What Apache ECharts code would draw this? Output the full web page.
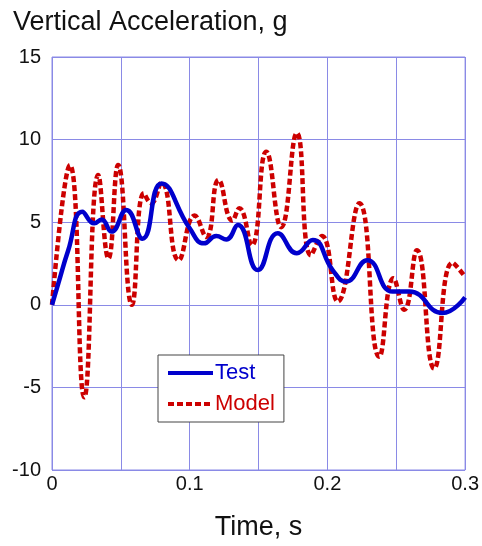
<!DOCTYPE html>
<html>
<head>
<meta charset="utf-8">
<script src="https://cdn.jsdelivr.net/npm/echarts@6/dist/echarts.min.js"></script>
<style>
  html, body { margin: 0; padding: 0; background: #fff; }
  #chart { width: 482px; height: 546px; }
</style>
</head>
<body>
<div id="chart"></div>
<script>
// test (measured) curve, time in s / acceleration in g
var testT = [0, 0.0046, 0.0118, 0.022, 0.0307, 0.036, 0.0432, 0.054, 0.0657, 0.0795, 0.1, 0.1104, 0.1193, 0.1266, 0.135, 0.1495, 0.164, 0.1778, 0.1894, 0.2038, 0.2135, 0.229, 0.2473, 0.2594, 0.2836, 0.3];
var testV = [0, 1.3, 3.3, 5.64, 4.93, 5.17, 4.43, 5.74, 4.0, 7.35, 4.63, 3.72, 4.16, 3.96, 4.83, 2.1, 4.33, 3.12, 3.92, 2.1, 1.4, 2.7, 0.8, 0.8, -0.5, 0.45];
// model curve
var modelT = [0, 0.013, 0.0234, 0.0336, 0.041, 0.048, 0.058, 0.0667, 0.072, 0.0795, 0.092, 0.1036, 0.112, 0.121, 0.131, 0.136, 0.145, 0.1556, 0.1664, 0.1778, 0.188, 0.196, 0.2075, 0.2232, 0.2377, 0.248, 0.2558, 0.265, 0.2775, 0.2908, 0.299];
var modelV = [0, 8.45, -5.6, 7.86, 2.8, 8.46, 0, 6.75, 6.15, 7.4, 2.7, 5.4, 4.1, 7.55, 5.1, 5.85, 3.6, 9.27, 4.7, 10.4, 3.0, 4.16, 0.2, 6.14, -3.14, 1.6, -0.3, 3.3, -3.85, 2.55, 1.8];
// x tick labels (every other grid line is labelled)
var xTickLabels = ['0', '', '0.1', '', '0.2', '', '0.3'];

function pairs(t, v) {
    return t.map(function (x, i) { return [x, v[i]]; });
}

var gridColor = '#8a8ae6';
var myChart = echarts.init(document.getElementById('chart'));
myChart.setOption({
    animation: false,
    textStyle: { fontFamily: 'Liberation Sans, Arial, sans-serif' },
    title: {
        text: 'Vertical Acceleration, g',
        left: 8,
        top: 4,
        textStyle: { fontSize: 27, fontWeight: 'normal', color: '#111' }
    },
    legend: {
        orient: 'vertical',
        left: 158,
        top: 355,
        padding: [7, 9, 7, 8],
        itemGap: 9,
        itemWidth: 45,
        itemHeight: 14,
        borderColor: '#444',
        borderWidth: 1,
        backgroundColor: '#fff',
        itemStyle: { opacity: 0 },
        lineStyle: { width: 4 },
        textStyle: { fontSize: 22, padding: [0, 0, 0, -3] },
        data: [
            { name: 'Test', textStyle: { color: '#0000cc' } },
            { name: 'Model', textStyle: { color: '#cc0000' } }
        ]
    },
    grid: {
        left: 52,
        right: 16,
        top: 57,
        bottom: 75,
        show: true,
        borderColor: gridColor,
        borderWidth: 1
    },
    xAxis: {
        type: 'value',
        min: 0,
        max: 0.3,
        interval: 0.05,
        name: 'Time, s',
        nameLocation: 'middle',
        nameGap: 44,
        nameTextStyle: { fontSize: 27, color: '#111' },
        axisLine: { show: false },
        axisTick: { show: false },
        axisLabel: {
            fontSize: 20,
            color: '#111',
            margin: 4,
            formatter: function (v, i) { return xTickLabels[i]; }
        },
        splitLine: { lineStyle: { color: gridColor, width: 1 } }
    },
    yAxis: {
        type: 'value',
        min: -10,
        max: 15,
        interval: 5,
        axisLine: { show: false },
        axisTick: { show: false },
        axisLabel: { fontSize: 20, color: '#111', margin: 11 },
        splitLine: { lineStyle: { color: gridColor, width: 1 } }
    },
    series: [
        {
            name: 'Model',
            type: 'line',
            data: pairs(modelT, modelV),
            smooth: 0.5,
            symbol: 'none',
            z: 2,
            lineStyle: { color: '#cc0000', width: 4.5, type: [6, 3] },
            itemStyle: { color: '#cc0000' }
        },
        {
            name: 'Test',
            type: 'line',
            data: pairs(testT, testV),
            smooth: 0.5,
            symbol: 'none',
            z: 3,
            lineStyle: { color: '#0000cc', width: 4.5 },
            itemStyle: { color: '#0000cc' }
        }
    ]
});
</script>
</body>
</html>
